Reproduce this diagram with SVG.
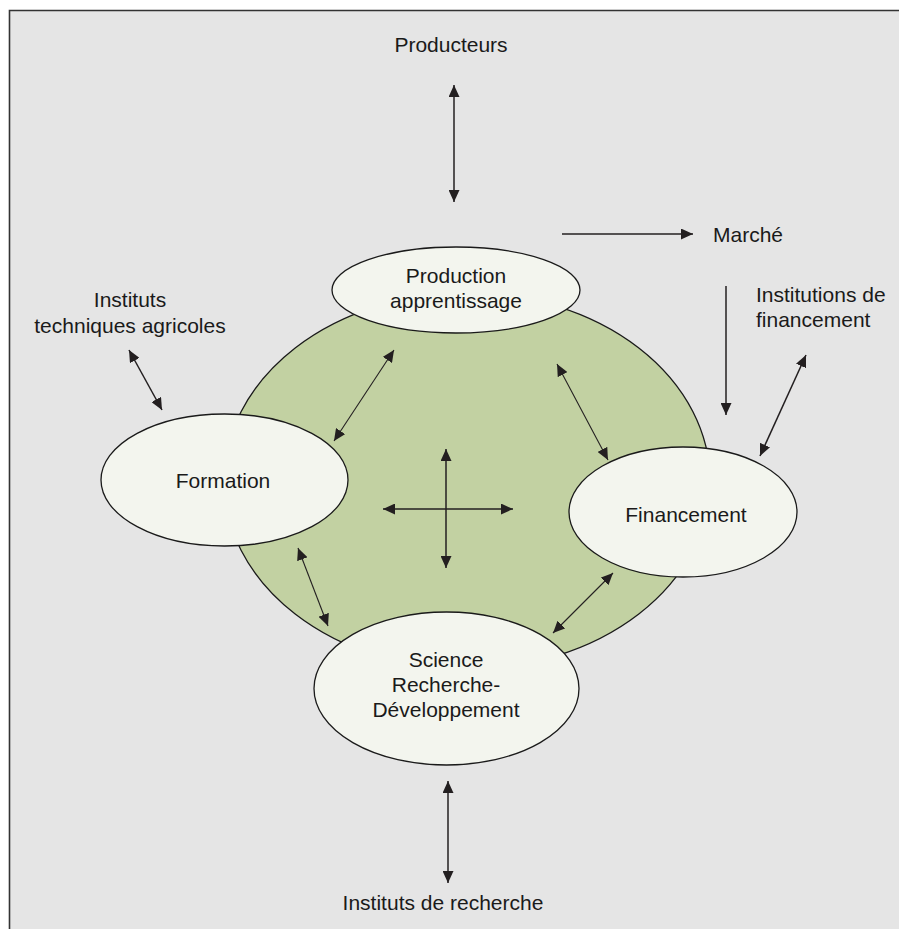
<svg xmlns="http://www.w3.org/2000/svg" width="899" height="929" viewBox="0 0 899 929">
<style>
.t{font-family:"Liberation Sans",Arial,sans-serif;font-size:21px;fill:#1a1a1a}
.m{text-anchor:middle}
.node{fill:#f3f5ee;stroke:#1a1a1a;stroke-width:1.3}
.c{stroke:#231f20;fill:none}
.c1{stroke-width:1.5}
.c2{stroke-width:1.1}
</style>
<defs>
<marker id="ah" viewBox="0 0 12 11" refX="12" refY="5.5" markerWidth="12" markerHeight="11" markerUnits="userSpaceOnUse" orient="auto-start-reverse">
<path d="M0,0 L12,5.5 L0,11 z" fill="#231f20"/>
</marker>
</defs>
<rect x="0" y="0" width="899" height="929" fill="#ffffff"/>
<rect x="9.5" y="10.5" width="900" height="930" fill="#e5e5e5"/>
<path d="M9.5,929 V10.5 H899" fill="none" stroke="#333" stroke-width="1.6"/>
<g id="core">
<ellipse cx="467" cy="481" rx="243" ry="188" fill="#c2d1a2" stroke="#1a1a1a" stroke-width="1.3"/>
</g>
<g id="production">
<ellipse class="node" cx="456" cy="290" rx="124" ry="43"/>
<text class="t m" x="456" y="283">Production</text>
<text class="t m" x="456" y="308">apprentissage</text>
</g>
<g id="formation">
<ellipse class="node" cx="224.5" cy="480" rx="123.5" ry="66"/>
<text class="t m" x="223" y="488">Formation</text>
</g>
<g id="financement">
<ellipse class="node" cx="683" cy="512" rx="114" ry="65"/>
<text class="t m" x="686" y="522">Financement</text>
</g>
<g id="science">
<ellipse class="node" cx="446.5" cy="688.5" rx="132.5" ry="76.5"/>
<text class="t m" x="446" y="667">Science</text>
<text class="t m" x="446" y="692">Recherche-</text>
<text class="t m" x="446" y="717">Développement</text>
</g>
<g id="producteurs"><text class="t m" x="451" y="52">Producteurs</text></g>
<g id="marche"><text class="t" x="713" y="242">Marché</text></g>
<g id="institutions-financement">
<text class="t" x="756" y="302">Institutions de</text>
<text class="t" x="756" y="327">financement</text>
</g>
<g id="instituts-techniques">
<text class="t m" x="130" y="307">Instituts</text>
<text class="t m" x="130" y="333">techniques agricoles</text>
</g>
<g id="instituts-recherche"><text class="t m" x="443" y="910">Instituts de recherche</text></g>
<g id="connectors">
<line class="c c1" x1="454" y1="85" x2="454" y2="202" marker-start="url(#ah)" marker-end="url(#ah)"/>
<line class="c c1" x1="562" y1="234" x2="693" y2="234" marker-end="url(#ah)"/>
<line class="c c1" x1="726" y1="286" x2="726" y2="415" marker-end="url(#ah)"/>
<line class="c c1" x1="806" y1="355" x2="760" y2="456" marker-start="url(#ah)" marker-end="url(#ah)"/>
<line class="c c1" x1="129" y1="350" x2="162" y2="410" marker-start="url(#ah)" marker-end="url(#ah)"/>
<line class="c c2" x1="394" y1="350" x2="334" y2="441" marker-start="url(#ah)" marker-end="url(#ah)"/>
<line class="c c2" x1="557" y1="364" x2="608" y2="460" marker-start="url(#ah)" marker-end="url(#ah)"/>
<line class="c c2" x1="298" y1="548" x2="328" y2="626" marker-start="url(#ah)" marker-end="url(#ah)"/>
<line class="c c2" x1="613" y1="573" x2="553" y2="633" marker-start="url(#ah)" marker-end="url(#ah)"/>
<line class="c c1" x1="446" y1="449" x2="446" y2="568" marker-start="url(#ah)" marker-end="url(#ah)"/>
<line class="c c1" x1="383" y1="509" x2="513" y2="509" marker-start="url(#ah)" marker-end="url(#ah)"/>
<line class="c c1" x1="448" y1="781" x2="448" y2="883" marker-start="url(#ah)" marker-end="url(#ah)"/>
</g>
</svg>
